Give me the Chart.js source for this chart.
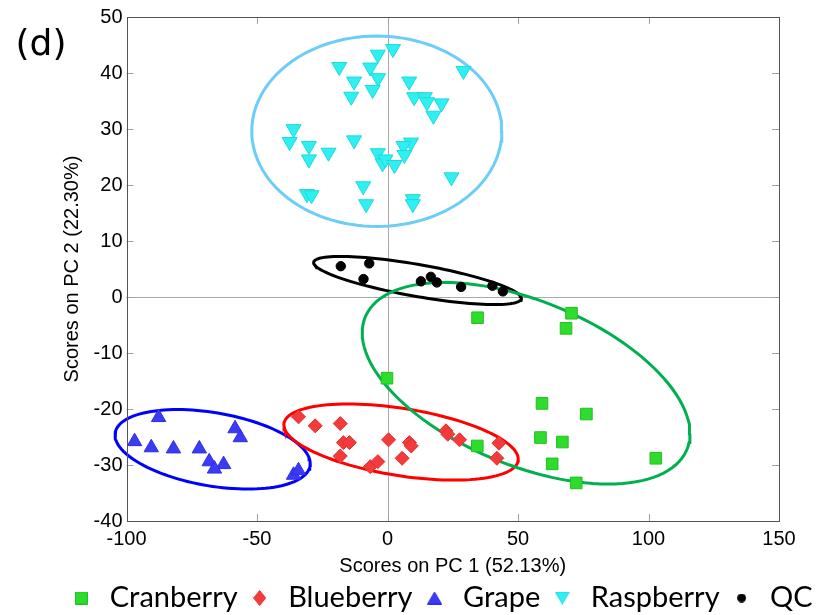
<!DOCTYPE html>
<html>
<head>
<meta charset="utf-8">
<script src="https://cdn.jsdelivr.net/npm/chart.js@4.4.1/dist/chart.umd.min.js"></script>
<style>
html,body{margin:0;padding:0;background:#fff;}
#wrap{width:822px;height:615px;position:relative;}
</style>
</head>
<body>
<div id="wrap"><canvas id="c" width="822" height="615"></canvas></div>
<script>
// ---------------- data ----------------
const seriesNames = ['Cranberry', 'Blueberry', 'Grape', 'Raspberry', 'QC'];

const cranberryX = [34.5, 70.5, 68.4, -0.2, 59.2, 76.2, 58.6, 67.0, 34.4, 63.1, 102.8, 72.3];
const cranberryY = [-3.7, -2.9, -5.6, -14.5, -19.0, -20.9, -25.1, -25.9, -26.6, -29.8, -28.8, -33.2];

const blueberryX = [-34.1, -27.7, -18.1, -16.9, -14.6, -18.1, -6.6, -3.7, 0.4, 8.4, 9.1, 5.6, 22.4, 23.1, 27.6, 42.7, 41.9];
const blueberryY = [-21.4, -23.0, -22.6, -26.0, -26.0, -28.4, -30.3, -29.4, -25.5, -26.0, -26.6, -28.8, -23.9, -24.5, -25.5, -26.1, -28.8];

const grapeX = [-87.7, -96.9, -90.5, -82.0, -72.1, -58.4, -56.4, -68.3, -62.8, -66.3, -36.0, -34.1];
const grapeY = [-21.5, -25.8, -26.9, -27.1, -27.1, -23.5, -25.1, -29.4, -29.9, -30.7, -31.8, -31.0];

const raspberryX = [2.1, -3.7, -18.5, -6.6, 29.1, -3.6, -12.8, 8.3, -5.7, -13.9, 10.2, 14.3, 20.7, 15.1, 17.6,
                    -36.0, -37.5, -12.8, -30.1, 9.0, 6.1, -22.6, -30.1, -3.7, 6.5, -1.9, -0.8, 2.7, 24.5, -9.3,
                    -30.9, -29.1, -8.2, 9.7, 9.7];
const raspberryY = [44.3, 43.3, 41.1, 41.0, 40.4, 39.1, 38.5, 38.5, 37.0, 35.8, 35.7, 35.7, 34.6, 34.8, 32.4,
                    30.0, 27.7, 28.0, 27.0, 27.6, 27.0, 25.8, 24.6, 25.7, 25.4, 23.9, 24.6, 23.6, 21.4, 19.8,
                    18.4, 18.2, 16.6, 17.5, 16.6];

const qcX = [-17.9, -7.0, -9.2, 12.8, 16.6, 18.9, 28.2, 40.2, 44.2];
const qcY = [5.5, 6.0, 3.2, 2.8, 3.6, 2.6, 1.8, 2.0, 1.0];

// confidence ellipses (one per series): centre, half extents along x / y, correlation
const ellipseCenterX = [53.1, 5.2, -67.0, -4.1, 11.5];
const ellipseCenterY = [-15.4, -25.9, -27.2, 29.6, 2.95];
const ellipseHalfWidth = [62.8, 44.9, 37.4, 47.9, 39.8];
const ellipseHalfHeight = [18.0, 6.8, 7.1, 17.0, 4.3];
const ellipseCorr = [-0.50, -0.45, -0.36, 0.0, -0.74];

const xTicks = [-100, -50, 0, 50, 100, 150];
const yTicks = [-40, -30, -20, -10, 0, 10, 20, 30, 40, 50];

const xTitle = 'Scores on PC 1 (52.13%)';
const yTitle = 'Scores on PC 2 (22.30%)';
const panelLabel = '(d)';

// ---------------- styles ----------------
const markerFill = ['#2ddc2d', '#f33b3b', '#3b3bf3', '#2ef0f0', '#000000'];
const markerEdge = ['#20c020', '#e62e2e', '#2e2ee6', '#20d8e0', '#000000'];
const ellipseColor = ['#00b050', '#ff0000', '#0000ff', '#6ccdf8', '#000000'];

const toPts = (xs, ys) => xs.map((x, i) => ({x: x, y: ys[i]}));

function ellipsePoints(k) {
  const pts = [];
  const cx = ellipseCenterX[k], cy = ellipseCenterY[k];
  const w = ellipseHalfWidth[k], h = ellipseHalfHeight[k], r = ellipseCorr[k];
  const s = Math.sqrt(1 - r * r);
  for (let d = 0; d <= 360; d += 3) {
    const t = d * Math.PI / 180;
    pts.push({x: cx + w * Math.cos(t), y: cy + h * (r * Math.cos(t) + s * Math.sin(t))});
  }
  return pts;
}

function icon(w, h, fill, edge, draw) {
  const c = document.createElement('canvas');
  c.width = w; c.height = h;
  const g = c.getContext('2d');
  g.fillStyle = fill; g.strokeStyle = edge; g.lineWidth = 1;
  g.beginPath(); draw(g, w, h); g.closePath(); g.fill(); g.stroke();
  return c;
}
const legendIcons = [
  icon(13, 13, markerFill[0], markerEdge[0], (g) => { g.rect(0.5, 0.5, 12, 12); }),
  icon(13, 16, markerFill[1], markerEdge[1], (g) => { g.moveTo(6.5, 0.5); g.lineTo(12.5, 8); g.lineTo(6.5, 15.5); g.lineTo(0.5, 8); }),
  icon(15, 13, markerFill[2], markerEdge[2], (g) => { g.moveTo(7.5, 0.5); g.lineTo(14.5, 12.5); g.lineTo(0.5, 12.5); }),
  icon(15, 13, markerFill[3], markerEdge[3], (g) => { g.moveTo(0.5, 0.5); g.lineTo(14.5, 0.5); g.lineTo(7.5, 12.5); }),
  icon(9, 9, markerFill[4], markerEdge[4], (g) => { g.arc(4.5, 4.5, 4, 0, Math.PI * 2); })
];

const seriesX = [cranberryX, blueberryX, grapeX, raspberryX, qcX];
const seriesY = [cranberryY, blueberryY, grapeY, raspberryY, qcY];
const pointStyles = ['rect', 'rectRot', 'triangle', 'triangle', 'circle'];
const pointRadii = [8.2, 7.0, 8.3, 8.7, 4.7];
const pointRotations = [0, 0, 0, 180, 0];

const datasets = [];
seriesNames.forEach((name, k) => {
  datasets.push({
    label: name,
    data: toPts(seriesX[k], seriesY[k]),
    pointStyle: pointStyles[k],
    pointRadius: pointRadii[k],
    pointHoverRadius: pointRadii[k],
    pointRotation: pointRotations[k],
    backgroundColor: markerFill[k],
    borderColor: markerEdge[k],
    borderWidth: 1,
    showLine: false
  });
});
seriesNames.forEach((name, k) => {
  datasets.push({
    label: name + ' ellipse',
    data: ellipsePoints(k),
    showLine: true,
    pointRadius: 0,
    pointHoverRadius: 0,
    borderColor: ellipseColor[k],
    backgroundColor: ellipseColor[k],
    borderWidth: 3,
    fill: false,
    tension: 0,
    clip: false
  });
});

// ---------------- plugins ----------------
const LEGEND_CENTER = 440;
const LEGEND_MID_Y = 598;

const legendShift = {
  id: 'legendShift',
  afterLayout(chart) {
    const lg = chart.legend;
    if (!lg || !lg.lineWidths) return;
    const pad = lg.options.labels.padding;
    const startX = (lg.left + pad + lg.right - lg.lineWidths[0]) / 2;
    const span = lg.lineWidths[0] - pad;
    const dx = (LEGEND_CENTER - span / 2) - startX;
    const fs = lg.options.labels.font.size;
    const dy = LEGEND_MID_Y - (lg.top + pad + fs / 2);
    lg.left += dx; lg.right += dx;
    lg.top += dy; lg.bottom += dy;
  }
};

const frame = {
  id: 'frame',
  beforeDatasetsDraw(chart) {
    const {ctx, chartArea: a, scales: {x, y}} = chart;
    ctx.save();
    ctx.strokeStyle = '#aaaaaa';
    ctx.lineWidth = 1;
    const x0 = Math.round(x.getPixelForValue(0)) + 0.5;
    const y0 = Math.round(y.getPixelForValue(0)) + 0.5;
    ctx.beginPath();
    ctx.moveTo(x0, a.top); ctx.lineTo(x0, a.bottom);
    ctx.moveTo(a.left, y0); ctx.lineTo(a.right, y0);
    ctx.stroke();
    ctx.restore();
  },
  afterDatasetsDraw(chart) {
    const {ctx, chartArea: a, scales: {x, y}} = chart;
    ctx.save();
    ctx.strokeStyle = '#a0a0a0';
    ctx.lineWidth = 1;
    const len = 7;
    ctx.beginPath();
    xTicks.forEach(v => {
      const p = Math.round(x.getPixelForValue(v)) + 0.5;
      if (p <= a.left + 1 || p >= a.right - 1) return;
      ctx.moveTo(p, a.bottom); ctx.lineTo(p, a.bottom - len);
      ctx.moveTo(p, a.top); ctx.lineTo(p, a.top + len);
    });
    yTicks.forEach(v => {
      const p = Math.round(y.getPixelForValue(v)) + 0.5;
      if (p <= a.top + 1 || p >= a.bottom - 1) return;
      ctx.moveTo(a.left, p); ctx.lineTo(a.left + len, p);
      ctx.moveTo(a.right, p); ctx.lineTo(a.right - len, p);
    });
    ctx.stroke();
    ctx.strokeStyle = '#555555';
    ctx.strokeRect(Math.round(a.left) + 0.5, Math.round(a.top) + 0.5,
                   Math.round(a.right) - Math.round(a.left), Math.round(a.bottom) - Math.round(a.top));
    ctx.restore();
  },
  afterDraw(chart) {
    const {ctx} = chart;
    ctx.save();
    ctx.fillStyle = '#000';
    ctx.font = "36px 'DejaVu Sans', sans-serif";
    ctx.textAlign = 'center';
    ctx.textBaseline = 'middle';
    ctx.fillText(panelLabel, 41, 46);
    ctx.restore();
  }
};

// ---------------- chart ----------------
Chart.defaults.font.family = "'Liberation Sans', Arial, sans-serif";
Chart.defaults.color = '#000';

new Chart(document.getElementById('c'), {
  type: 'scatter',
  data: {datasets: datasets},
  plugins: [legendShift, frame],
  options: {
    responsive: false,
    animation: false,
    devicePixelRatio: 1,
    events: [],
    layout: {padding: {top: 17, left: 0, right: 43, bottom: 0}},
    plugins: {
      tooltip: {enabled: false},
      legend: {
        position: 'bottom',
        align: 'center',
        labels: {
          usePointStyle: true,
          pointStyleWidth: 28,
          boxHeight: 14,
          padding: 8,
          color: '#000',
          font: {family: 'Lato', size: 29},
          filter: (item) => item.datasetIndex < seriesNames.length,
          generateLabels: (chart) => {
            const items = Chart.defaults.plugins.legend.labels.generateLabels(chart);
            return items.map(it => Object.assign({}, it, {
              pointStyle: legendIcons[it.datasetIndex],
              rotation: 0
            }));
          }
        }
      }
    },
    scales: {
      x: {
        type: 'linear',
        min: xTicks[0],
        max: xTicks[xTicks.length - 1],
        afterBuildTicks: (s) => { s.ticks = xTicks.map(v => ({value: v})); },
        grid: {display: false, drawTicks: false},
        border: {display: false},
        ticks: {padding: 6, color: '#000', font: {size: 20}},
        title: {display: true, text: xTitle, color: '#000', font: {size: 20, lineHeight: 1}, padding: {top: 0, bottom: -8}},
        afterFit: (s) => { s.height = 47; }
      },
      y: {
        type: 'linear',
        min: yTicks[0],
        max: yTicks[yTicks.length - 1],
        afterBuildTicks: (s) => { s.ticks = yTicks.map(v => ({value: v})); },
        grid: {display: false, drawTicks: false},
        border: {display: false},
        ticks: {padding: 4, color: '#000', font: {size: 20}},
        title: {display: true, text: yTitle, color: '#000', font: {size: 20, lineHeight: 1}, padding: {top: 62.5, bottom: 0}},
        afterFit: (s) => { s.width = 126.5; }
      }
    }
  }
});
</script>
</body>
</html>
